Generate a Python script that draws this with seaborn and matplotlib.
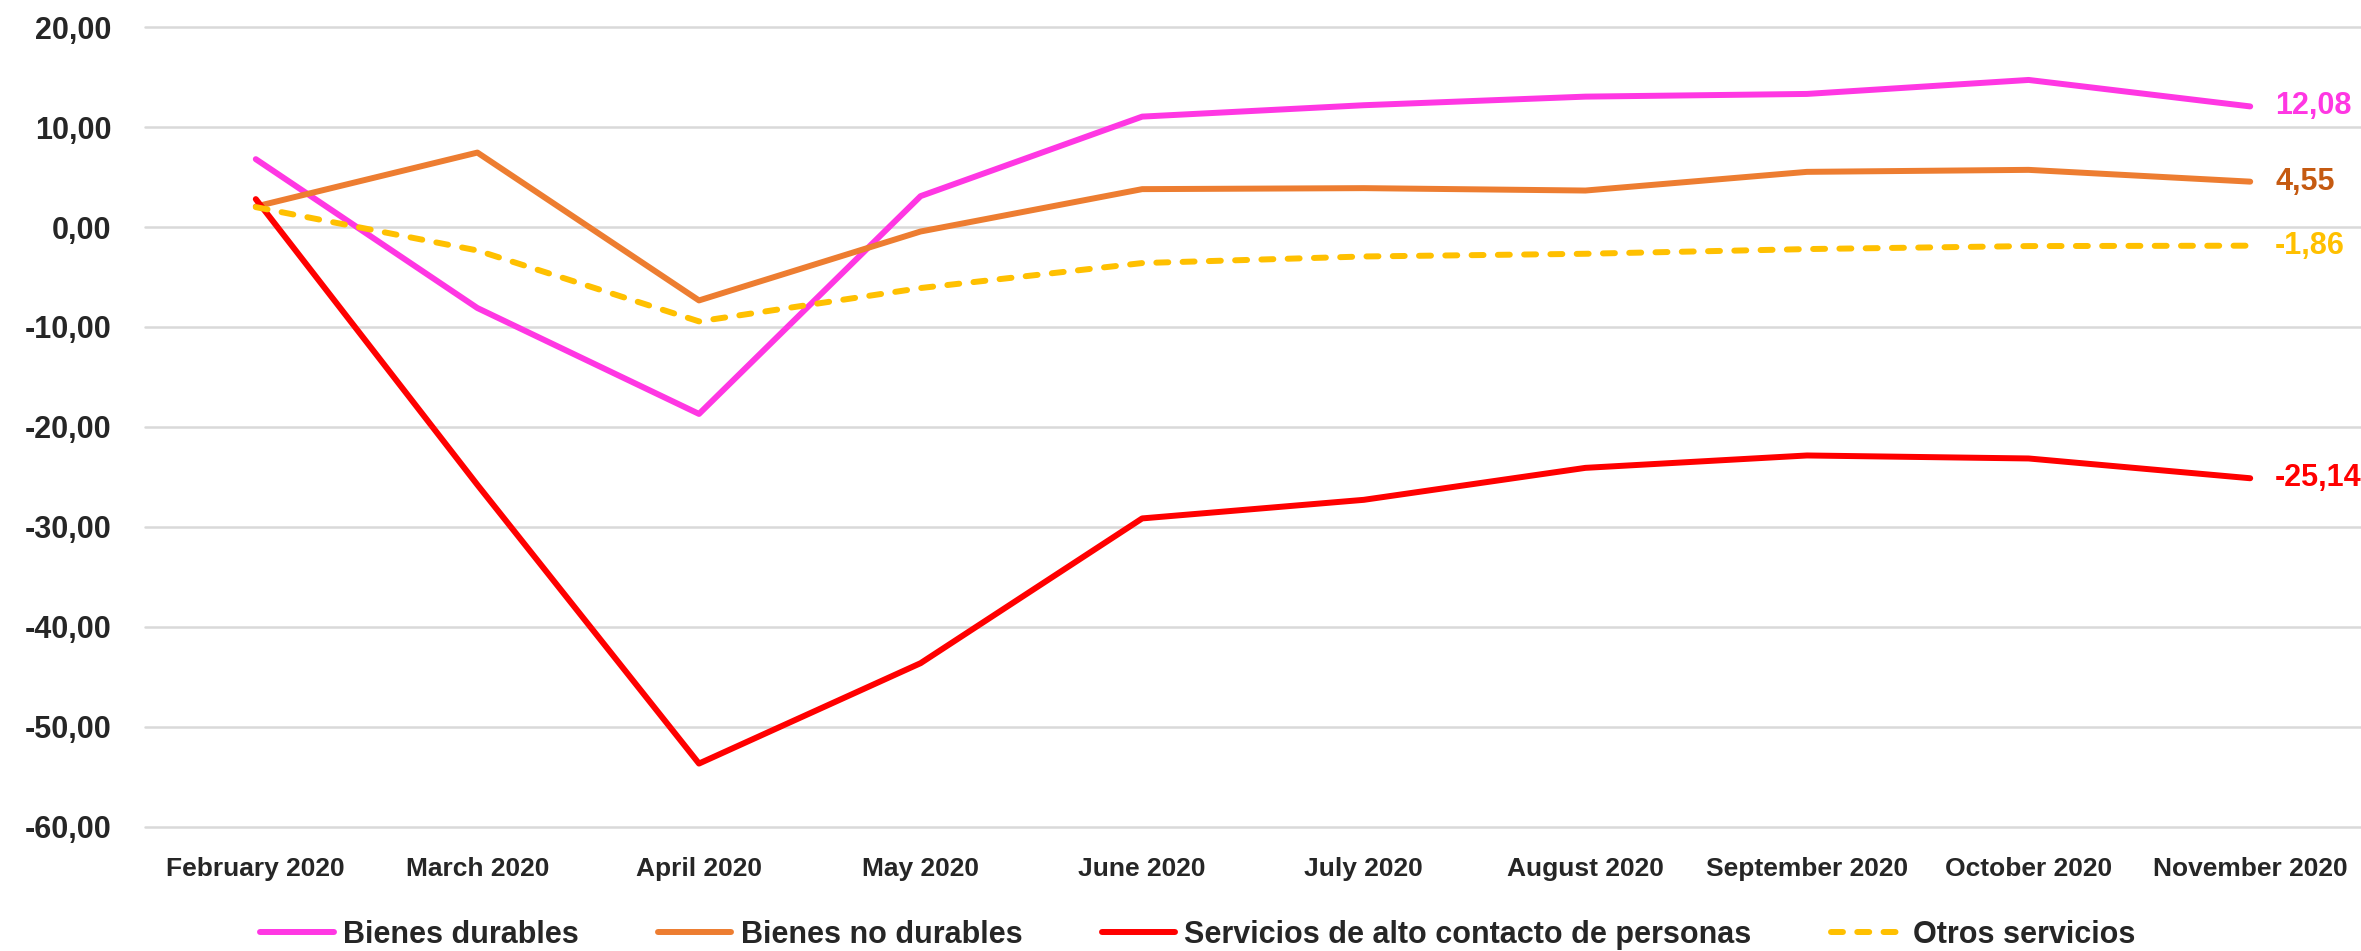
import matplotlib
matplotlib.use("Agg")
import matplotlib.pyplot as plt
import seaborn as sns
import pandas as pd

# data
months = ["February 2020", "March 2020", "April 2020", "May 2020", "June 2020",
          "July 2020", "August 2020", "September 2020", "October 2020", "November 2020"]
durables = [6.8, -8.1, -18.7, 3.1, 11.06, 12.2, 13.06, 13.33, 14.73, 12.08]
no_durables = [2.06, 7.46, -7.34, -0.44, 3.8, 3.9, 3.66, 5.53, 5.73, 4.55]
alto_contacto = [2.8, -25.8, -53.7, -43.65, -29.16, -27.3, -24.1, -22.86, -23.16, -25.14]
otros = [2.0, -2.34, -9.44, -6.1, -3.6, -2.94, -2.67, -2.2, -1.9, -1.86]

series_names = ["Bienes durables", "Bienes no durables",
                "Servicios de alto contacto de personas", "Otros servicios"]
series_values = [durables, no_durables, alto_contacto, otros]
colors = ["#FF37E3", "#ED7D31", "#FF0000", "#FFC000"]
label_colors = ["#FF37E3", "#C55A11", "#FF0000", "#FFC000"]

sns.set_style("white")
plt.rcParams["font.family"] = ["Liberation Sans", "DejaVu Sans"]
plt.rcParams["font.weight"] = "bold"
text_col = "#262626"

fig = plt.figure(figsize=(23.61, 9.51), dpi=100)
ax = fig.add_axes([145 / 2361, 1 - 826.5 / 951, 1 - 145 / 2361, (826.5 - 27.3) / 951])

for name, vals, col in zip(series_names, series_values, colors):
    df = pd.DataFrame({"month": months, "value": vals})
    if name == "Otros servicios":
        sns.lineplot(data=df, x="month", y="value", ax=ax, sort=False, color=col,
                     linewidth=4.3, label=name, linestyle=(0, (2.0, 2.4)),
                     dash_capstyle="round")
    else:
        sns.lineplot(data=df, x="month", y="value", ax=ax, sort=False, color=col,
                     linewidth=4.3, label=name, solid_capstyle="round")

# end labels
for vals, col in zip(series_values, label_colors):
    ax.annotate(f"{vals[-1]:.2f}".replace(".", ","), xy=(len(months) - 1, vals[-1]),
                xytext=(18, 0), textcoords="offset points", va="center", ha="left",
                color=col, fontsize=22, fontweight="bold")

ax.set_xlim(-0.5, len(months) - 0.5)
ax.set_ylim(-60, 20)
ax.set_yticks(range(-60, 21, 10))
ax.set_yticklabels([f"{v:.2f}".replace(".", ",") for v in range(-60, 21, 10)])
ax.yaxis.grid(True, color="#D9D9D9", linewidth=1.8)
ax.xaxis.grid(False)
ax.set_axisbelow(True)
for gl in ax.get_ygridlines():
    gl.set_clip_on(False)
for s in ax.spines.values():
    s.set_visible(False)
ax.tick_params(axis="y", length=0, pad=24, labelsize=22, labelcolor=text_col)
ax.tick_params(axis="x", length=0, pad=22, labelsize=19, labelcolor=text_col)
ax.set_xlabel("")
ax.set_ylabel("")

handles, labels = ax.get_legend_handles_labels()
ax.get_legend().remove()
fig.legend(handles, labels, loc="center", bbox_to_anchor=(1198 / 2361, 1 - 935 / 951),
           ncol=4, frameon=False, fontsize=22, handlelength=2.4, handletextpad=0.3,
           columnspacing=2.6, labelcolor=text_col)

fig.savefig("out.png", dpi=100)
